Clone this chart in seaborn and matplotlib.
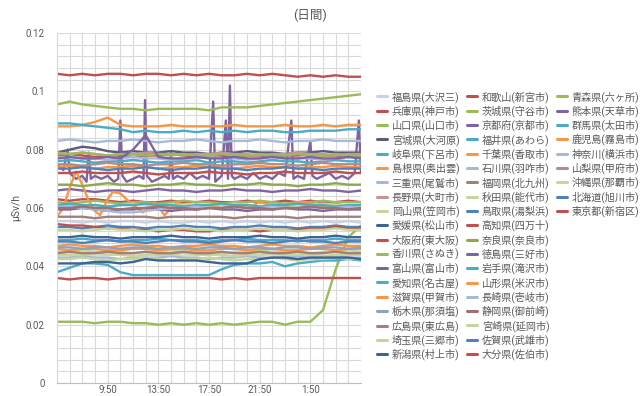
import pandas as pd
import matplotlib
matplotlib.use("Agg")
import matplotlib.pyplot as plt
from matplotlib.lines import Line2D
from matplotlib.ticker import MultipleLocator
import seaborn as sns

# 観測点 (凡例の並び順) と線の色
stations = [
    "福島県(大沢三)", "和歌山(新宮市)", "青森県(六ヶ所)", "兵庫県(神戸市)", "茨城県(守谷市)",
    "熊本県(天草市)", "山口県(山口市)", "京都府(京都市)", "群馬県(太田市)", "宮城県(大河原)",
    "福井県(あわら)", "鹿児島(霧島市)", "岐阜県(下呂市)", "千葉県(香取市)", "神奈川(横浜市)",
    "島根県(奥出雲)", "石川県(羽咋市)", "山梨県(甲府市)", "三重県(尾鷲市)", "福岡県(北九州)",
    "沖縄県(那覇市)", "長野県(大町市)", "秋田県(能代市)", "北海道(旭川市)", "岡山県(笠岡市)",
    "鳥取県(湯梨浜)", "東京都(新宿区)", "愛媛県(松山市)", "高知県(四万十)", "大阪府(東大阪)",
    "奈良県(奈良市)", "香川県(さぬき)", "徳島県(三好市)", "富山県(富山市)", "岩手県(滝沢市)",
    "愛知県(名古屋)", "山形県(米沢市)", "滋賀県(甲賀市)", "長崎県(壱岐市)", "栃木県(那須塩)",
    "静岡県(御前崎)", "広島県(東広島)", "宮崎県(延岡市)", "埼玉県(三郷市)", "佐賀県(武雄市)",
    "新潟県(村上市)", "大分県(佐伯市)",
]
colors = [
    "#C8D2E2", "#C0504D", "#9BBB59", "#C0504D", "#9BBB59",
    "#8064A2", "#9BBB59", "#8064A2", "#4BACC6", "#5E5A7C",
    "#4BACC6", "#F79646", "#4BACC6", "#F79646", "#A7B9D9",
    "#F79646", "#A7B9D9", "#B28C8A", "#A7B9D9", "#A0807C",
    "#C4D79B", "#C49592", "#C4D79B", "#4F81BD", "#C4D79B",
    "#4F81BD", "#C0504D", "#3C6494", "#C0504D", "#C0504D",
    "#8FA84E", "#9BBB59", "#8064A2", "#8064A2", "#4BACC6",
    "#4BACC6", "#F79646", "#F79646", "#A7B9D9", "#8EA2BE",
    "#A0716E", "#A87E7A", "#C4D79B", "#C4D79B", "#4F81BD",
    "#3C6494", "#C0504D",
]

# 時刻: 5:50 からの経過時間 (h)
hours = list(range(25))
tick_hours = [4, 8, 12, 16, 20]
tick_labels = ["9:50", "13:50", "17:50", "21:50", "1:50"]
ytick_values = [0, 0.02, 0.04, 0.06, 0.08, 0.1, 0.12]
ytick_labels = ["0", "0.02", "0.04", "0.06", "0.08", "0.1", "0.12"]

# 測定値 (nSv/h = 0.001 μSv/h)
fukushima = [55.5, 55.5, 55, 55.5, 55, 55.5, 55.5, 55, 55.5, 55, 55, 55.5, 55, 55.5, 55, 55.5, 55, 55.5, 55, 55.5, 55, 55.5, 55, 55.5, 55]
wakayama = [63, 62.5, 63, 63, 62.5, 62, 62.5, 62, 62, 62.5, 62, 62, 62.5, 62, 62, 62.5, 62, 62, 62.5, 62, 62.5, 62, 62, 62.5, 62]
aomori = [21, 21, 21, 20.5, 21, 21, 20.5, 20.5, 20, 20.5, 20, 20.5, 20, 20.5, 20, 20.5, 21, 21, 20, 21, 21, 25, 39, 50, 54]
hyogo = [78, 78.5, 78, 77.5, 78, 78, 77.5, 78, 78, 78.5, 78, 77.5, 78, 78, 77.5, 78, 78, 77.5, 78, 78, 78.5, 78, 78, 77.5, 78]
ibaraki = [62, 61.5, 62, 62.5, 62, 61.5, 62, 62, 61.5, 62, 62.5, 62, 62, 61.5, 62, 62, 62.5, 62, 61.5, 62, 62, 62.5, 62, 62, 62]
kumamoto_hours = [0, 0.5, 0.83, 1.0, 1.5, 2, 2.33, 2.5, 2.67, 3, 3.5, 4, 4.5, 4.83, 5.0, 5.17, 5.5, 6, 6.5,
                  6.83, 6.95, 7.1, 7.5, 8, 8.5, 8.83, 9.0, 9.17, 9.5, 10, 10.5, 11, 11.5, 12, 12.33, 12.5,
                  13, 13.33, 13.5, 13.65, 13.8, 14, 14.5, 15, 15.5, 16, 16.5, 17, 17.5, 18, 18.5, 18.67,
                  19, 19.5, 20, 20.17, 20.5, 21, 21.5, 22, 22.5, 23, 23.5, 23.83, 24]
kumamoto = [75, 73, 80, 72, 70, 71, 69, 79, 70, 71, 70, 71, 69, 70, 90, 71, 69, 70, 71,
            70, 97, 71, 69, 70, 71, 70, 79, 70, 71, 70, 72, 70, 71, 70, 96.5, 69,
            71, 90, 70, 102, 71, 70, 71, 70, 72, 70, 71, 70, 72, 71, 90, 70,
            71, 70, 83, 71, 70, 71, 72, 70, 71, 70, 72, 90, 72]
yamaguchi = [95.5, 96.5, 95.5, 95, 94.5, 94, 94, 93.5, 94, 94, 94, 94, 93.5, 94.5, 94.5, 94.5, 95, 95.5, 96, 96.5, 97, 97.5, 98, 98.5, 99]
kyoto = [66, 66.5, 66, 65.5, 66, 66, 65.5, 66, 66.5, 66, 66, 65.5, 66, 66, 66.5, 66, 66, 65.5, 66, 66, 66.5, 66, 66, 65.5, 66]
gunma = [49, 49, 49.5, 49, 49, 48.5, 49, 49, 49.5, 49, 49, 49, 48.5, 49, 49, 49.5, 49, 49, 49, 48.5, 49, 49, 49.5, 49, 49]
miyagi = [79, 80, 81, 80.5, 79.5, 79, 79.5, 79, 79, 79.5, 79, 79, 78.5, 79, 79, 79.5, 79, 79, 78.5, 79, 79, 79.5, 79, 79, 79]
fukui = [76, 76.5, 76, 75.5, 76, 76, 76.5, 76, 75.5, 76, 76, 76.5, 75.5, 76, 76, 75.5, 76, 76.5, 76, 76, 75.5, 76, 76.5, 76, 76]
kagoshima = [88, 88, 88.5, 89.5, 91, 88.5, 88, 88, 88, 88.5, 88, 88, 88, 88, 88.5, 88, 88, 88, 88.5, 88, 88, 88.5, 88, 88.5, 88.5]
gifu = [89, 89, 88.5, 88, 87.5, 87, 86, 86.5, 86, 86, 86.5, 86, 86.5, 86, 86.5, 86, 86.5, 86.5, 86, 86, 86.5, 86.5, 86.5, 87, 87]
chiba = [74, 74.5, 74, 73.5, 74, 74, 74.5, 74, 73.5, 74, 74, 74.5, 74, 74, 73.5, 74, 74.5, 74, 74, 73.5, 74, 74, 74.5, 74, 74]
kanagawa = [43, 43, 43.5, 43, 43, 42.5, 43, 43, 43, 43.5, 43, 43, 42.5, 43, 43, 43.5, 43, 43, 43, 43.5, 43, 43, 43.5, 43, 43]
shimane_hours = [0, 0.5, 1.0, 1.5, 2.0, 2.5, 3.0, 3.4, 4.0, 4.4, 5.0, 5.5, 6.0, 6.8, 7.3, 7.7, 8.5, 9.0, 9.5,
                 10, 11, 12, 13, 14, 15, 16, 17, 18, 19, 20, 21, 22, 23, 24]
shimane = [57, 60, 67, 72.5, 68, 62.5, 59, 57.5, 63, 65.5, 65, 63, 61, 58.5, 60.5, 62, 57.5, 60, 62,
           61, 60.5, 61, 60, 61.5, 60, 62, 61, 60, 62, 61.5, 60.5, 61.5, 60.5, 61]
ishikawa = [83, 83.5, 83, 82.5, 83, 83, 83.5, 83, 82.5, 83, 83, 83.5, 83, 82.5, 83, 83, 83.5, 83, 82.5, 83, 83, 83.5, 83, 83, 83]
yamanashi = [75, 75, 74.5, 75, 75.5, 75, 75, 74.5, 75, 75, 75.5, 75, 75, 74.5, 75, 75, 75.5, 75, 75, 74.5, 75, 75.5, 75, 75, 75]
mie = [77, 77.5, 77, 77, 76.5, 77, 77.5, 77, 77, 76.5, 77, 77, 77.5, 77, 77, 76.5, 77, 77.5, 77, 77, 77, 76.5, 77, 77.5, 77]
fukuoka = [57, 57, 57, 56.5, 57, 57, 57, 57, 56.5, 57, 57, 57, 57, 57, 56.5, 57, 57, 57, 57, 56.5, 57, 57, 57, 57, 57]
okinawa = [45, 45, 45.5, 45, 45, 45, 44.5, 45, 45, 45.5, 45, 45, 45, 44.5, 45, 45, 45.5, 45, 45, 45, 44.5, 45, 45, 45.5, 45]
nagano = [78.5, 78.5, 79, 78.5, 78, 78.5, 78.5, 79, 78.5, 78.5, 78, 78.5, 78.5, 79, 78.5, 78.5, 78, 78.5, 78.5, 79, 78.5, 78.5, 78, 78.5, 78.5]
akita = [61, 60.5, 61, 61, 60.5, 61, 61.5, 61, 60.5, 61, 61, 60.5, 61, 61, 61.5, 61, 60.5, 61, 61, 60.5, 61, 61.5, 61, 61, 61]
hokkaido = [73.5, 73.5, 74, 73.5, 73, 73.5, 73.5, 74, 73.5, 73, 73.5, 73.5, 74, 73.5, 73.5, 73, 73.5, 73.5, 74, 73.5, 73.5, 73, 73.5, 73.5, 73.5]
okayama = [44, 44, 44, 44.5, 44, 44, 43.5, 44, 44, 44, 44.5, 44, 44, 44, 43.5, 44, 44, 44.5, 44, 44, 44, 43.5, 44, 44, 44]
tottori = [53.5, 53.5, 53, 53.5, 54, 53.5, 53.5, 53, 53.5, 53.5, 54, 53.5, 53.5, 53, 53.5, 53.5, 54, 53.5, 53.5, 53, 53.5, 53.5, 54, 53.5, 53.5]
tokyo = [36, 35.5, 36, 36, 35.5, 36, 36, 36, 36, 36, 36, 36, 36, 35.5, 36, 35.5, 36, 36, 36, 36, 36, 36, 36, 36, 36]
ehime = [50, 50, 50.5, 50, 50, 49.5, 50, 50, 50, 50.5, 50, 50, 49.5, 50, 50, 50, 50.5, 50, 50, 49.5, 50, 50, 50.5, 50, 50]
kochi = [54.5, 54, 54, 53.5, 53, 53, 52.5, 52.5, 52, 52.5, 52.5, 52, 52, 52.5, 52.5, 52.5, 52, 52.5, 52.5, 52.5, 53, 53, 53.5, 53, 53]
osaka = [72, 72, 72.5, 72, 72, 72, 72.5, 72, 71.5, 72, 72, 72, 72.5, 72, 72, 71.5, 72, 72, 72.5, 72, 72, 72, 72.5, 72, 72]
nara = [68, 68, 67.5, 68, 68.5, 68, 68, 67.5, 68, 68, 68.5, 68, 68, 67.5, 68, 68, 68.5, 68, 68, 67.5, 68, 68, 68.5, 68, 68]
kagawa = [79, 78.5, 79, 78.5, 78, 78.5, 78.5, 78, 78.5, 78, 78.5, 78, 78, 78.5, 78, 78, 78.5, 78, 78, 78.5, 78, 78, 78.5, 78, 78]
tokushima = [59.5, 59.5, 60, 59.5, 59, 59.5, 59.5, 60, 59.5, 59, 59.5, 59.5, 60, 59.5, 59.5, 59, 59.5, 59.5, 60, 59.5, 59.5, 59, 59.5, 59.5, 59.5]
toyama = [77, 77.5, 77, 77, 77.5, 77, 80, 85, 77.5, 77, 77, 77.5, 77, 77, 77.5, 77, 77, 77.5, 77, 77, 77.5, 77, 77, 77.5, 77]
iwate = [61, 61.5, 61, 61, 60.5, 61, 61, 61.5, 61, 61, 60.5, 61, 61, 61.5, 61, 61, 60.5, 61, 61, 61.5, 61, 61, 60.5, 61, 61]
aichi = [38, 39.5, 41, 41, 40.5, 38, 37, 37, 37, 37, 37, 37, 37, 39, 40.5, 41, 41, 41.5, 40, 41, 41.5, 42, 42, 42.5, 42]
yamagata = [47, 47.5, 47, 47, 46.5, 47, 47.5, 47, 47, 46.5, 47, 47, 47.5, 47, 47, 46.5, 47, 47.5, 47, 47, 46.5, 47, 47.5, 47, 47]
shiga = [46, 45.5, 46, 46, 45.5, 45.5, 46, 46, 45.5, 46, 46, 45.5, 45.5, 46, 46, 45.5, 46, 46, 45.5, 45.5, 46, 46, 45.5, 46, 46]
nagasaki = [60.5, 60.5, 60, 59.5, 59, 58.5, 58.5, 59, 59.5, 60, 60, 60.5, 60, 60, 60.5, 60, 60, 60.5, 60, 60, 60.5, 60, 60, 60.5, 60]
tochigi = [46.5, 46.5, 46, 46.5, 46.5, 46, 46.5, 46.5, 46, 46.5, 46.5, 46, 46.5, 46.5, 46, 46.5, 46.5, 46, 46.5, 46.5, 46, 46.5, 46.5, 46, 46.5]
shizuoka = [60, 60, 60.5, 60, 60, 59.5, 60, 60, 60.5, 60, 60, 59.5, 60, 60, 60.5, 60, 60, 59.5, 60, 60, 60.5, 60, 60, 59.5, 60]
hiroshima = [44.5, 45, 44.5, 44.5, 45, 44.5, 44.5, 45, 44.5, 44.5, 45, 44.5, 44.5, 45, 44.5, 44.5, 45, 44.5, 44.5, 45, 44.5, 44.5, 45, 44.5, 44.5]
miyazaki = [52.5, 52.5, 52, 52.5, 53, 52.5, 52.5, 52, 52.5, 52.5, 53, 52.5, 52.5, 52, 52.5, 52.5, 53, 52.5, 52.5, 52, 52.5, 52.5, 53, 52.5, 52.5]
saitama = [42.5, 42.5, 43, 42.5, 42, 42.5, 42.5, 43, 42.5, 42, 42.5, 42.5, 43, 42.5, 42, 42.5, 42.5, 43, 42.5, 42, 42.5, 42.5, 43, 42.5, 42.5]
saga = [48.5, 48.5, 48, 48.5, 49, 48.5, 48.5, 48, 48.5, 49, 48.5, 48.5, 48, 48.5, 49, 48.5, 48.5, 48, 48.5, 49, 48.5, 48.5, 48, 48.5, 48.5]
niigata = [41, 41, 41, 41.5, 41.5, 41, 41.5, 42.5, 42, 42, 42, 42, 41.5, 41, 41, 41, 42.5, 43, 43, 42.5, 43, 43, 43, 43, 42.5]
oita = [106, 105.5, 106, 105.5, 106, 106, 105.5, 106, 106, 105.5, 106, 105.5, 106, 105.5, 105.5, 106, 105.5, 106, 105.5, 105, 105.5, 105, 105.5, 105, 105]

readings = [fukushima, wakayama, aomori, hyogo, ibaraki, kumamoto, yamaguchi, kyoto, gunma, miyagi,
            fukui, kagoshima, gifu, chiba, kanagawa, shimane, ishikawa, yamanashi, mie, fukuoka,
            okinawa, nagano, akita, hokkaido, okayama, tottori, tokyo, ehime, kochi, osaka,
            nara, kagawa, tokushima, toyama, iwate, aichi, yamagata, shiga, nagasaki, tochigi,
            shizuoka, hiroshima, miyazaki, saitama, saga, niigata, oita]
own_times = {"熊本県(天草市)": kumamoto_hours, "島根県(奥出雲)": shimane_hours}

frames = []
for name, vals in zip(stations, readings):
    t = own_times.get(name, hours)
    frames.append(pd.DataFrame({"h": t, "usv": [v / 1000 for v in vals], "station": name}))
df = pd.concat(frames, ignore_index=True)

sns.set_style("white")
plt.rcParams["font.family"] = ["Roboto", "Noto Sans CJK JP", "DejaVu Sans"]
gray = "#595959"

fig = plt.figure(figsize=(6.4, 3.96), dpi=100)
ax = fig.add_axes([57 / 640, 13 / 396, 304 / 640, 350 / 396])

sns.lineplot(data=df, x="h", y="usv", hue="station", hue_order=stations, palette=colors,
             estimator=None, sort=False, lw=1.7, legend=False, ax=ax)

ax.set_xlim(0, 24)
ax.set_ylim(0, 0.12)
ax.set_xticks(tick_hours, tick_labels)
ax.set_yticks(ytick_values, ytick_labels)
ax.xaxis.set_minor_locator(MultipleLocator(1))
ax.yaxis.set_minor_locator(MultipleLocator(0.004))
ax.grid(which="both", color="#D9D9D9", lw=0.8)
ax.set_axisbelow(True)
ax.tick_params(which="both", length=0, labelsize=7, colors=gray)
ax.tick_params(axis="y", pad=9)
ax.tick_params(axis="x", pad=1.5)
ax.set_xlabel("")
ax.set_ylabel("μSv/h", fontsize=7.5, color=gray, labelpad=3)
for side in ["top", "right"]:
    ax.spines[side].set_visible(False)
ax.spines["left"].set_color("#D9D9D9")
ax.spines["bottom"].set_color("#BFBFBF")

fig.text(0.484, 0.962, "(日間)", fontsize=9, color=gray, ha="center", va="center")

# 凡例: Excel と同じく 19 行 x 3 列 (3 列目は 9 行)
handles = [Line2D([0], [0], color=c, lw=2.2) for c in colors]
order = (list(range(0, 27, 3)) + list(range(27, 47, 2))
         + list(range(1, 27, 3)) + list(range(28, 47, 2))
         + list(range(2, 27, 3)))
leg_handles = [handles[i] for i in order] + [Line2D([0], [0], alpha=0)] * 10
leg_labels = [stations[i] for i in order] + [""] * 10
fig.legend(leg_handles, leg_labels, loc="upper left", bbox_to_anchor=(377 / 640, 1 - 91 / 396),
           ncol=3, frameon=False, fontsize=7.3, labelcolor=gray, handlelength=1.0,
           handletextpad=0.45, columnspacing=0.75, labelspacing=0.27, borderpad=0, borderaxespad=0)

fig.savefig("out.png", dpi=100)
